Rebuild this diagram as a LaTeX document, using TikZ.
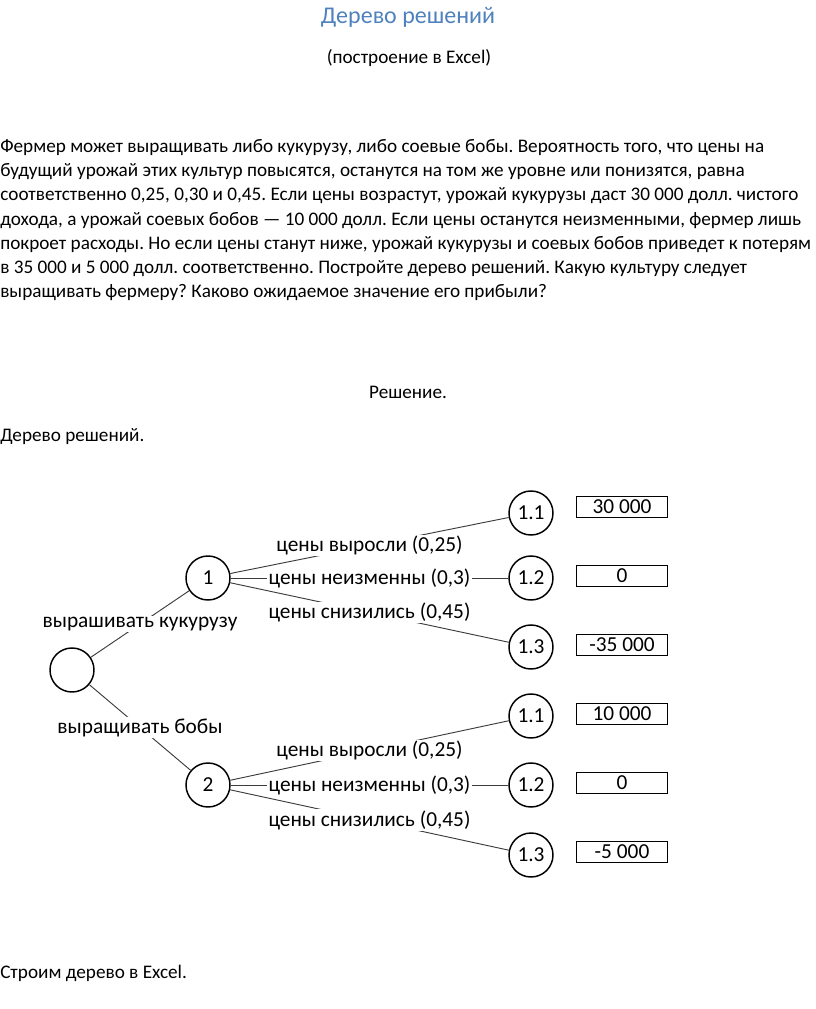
\documentclass[tikz,border=0pt]{standalone}
\usepackage{fontspec}
\setmainfont{Carlito}
\usetikzlibrary{positioning}
\definecolor{titleblue}{RGB}{79,129,189}
\definecolor{edgegray}{RGB}{60,60,60}
\frenchspacing

\tikzset{
  chance/.style={draw,circle,line width=1.1pt,minimum size=33pt,inner sep=0pt,font=\fontsize{16}{18}\selectfont},
  payoff/.style={draw,line width=1pt,minimum width=68pt,minimum height=16pt,inner sep=0pt,font=\fontsize{16}{18}\selectfont},
  branch/.style={draw=edgegray,line width=0.7pt},
  blabel/.style={fill=white,inner sep=1pt,font=\fontsize{16}{18}\selectfont},
  body/.style={font=\fontsize{14.4}{18.2}\selectfont,inner sep=0pt}
}

\begin{document}
\begin{tikzpicture}[x=0.75pt,y=-0.75pt]
\useasboundingbox (0,0) rectangle (816,1009);

% text above the tree
\node[body,font=\fontsize{18}{21}\selectfont,text=titleblue] (title) at (408,17) {Дерево решений};
\node[body] (subtitle) at (409,58) {(построение в Excel)};
\node[body,anchor=north west,align=left] (task) at (0,139) {Фермер может выращивать либо кукурузу, либо соевые бобы. Вероятность того, что цены на\\
будущий урожай этих культур повысятся, останутся на том же уровне или понизятся, равна\\
соответственно 0,25, 0,30 и 0,45. Если цены возрастут, урожай кукурузы даст 30 000 долл. чистого\\
дохода, а урожай соевых бобов — 10 000 долл. Если цены останутся неизменными, фермер лишь\\
покроет расходы. Но если цены станут ниже, урожай кукурузы и соевых бобов приведет к потерям\\
в 35 000 и 5 000 долл. соответственно. Постройте дерево решений. Какую культуру следует\\
выращивать фермеру? Каково ожидаемое значение его прибыли?};
\node[body] (solution) at (408,392) {Решение.};
\node[body,anchor=west] (treehead) at (0,437) {Дерево решений.};

% tree nodes
\node[chance] (root) at (72,670) {};
\node[chance] (c1) at (208,578) {1};
\node[chance] (c2) at (208,785) {2};
\node[chance] (c11) at (531,513) {1.1};
\node[chance] (c12) at (531,578) {1.2};
\node[chance] (c13) at (531,647) {1.3};
\node[chance] (c21) at (531,716) {1.1};
\node[chance] (c22) at (531,785) {1.2};
\node[chance] (c23) at (531,855) {1.3};

% payoffs
\node[payoff] (p11) at (622,507) {30 000};
\node[payoff] (p12) at (622,576) {0};
\node[payoff] (p13) at (622,645) {-35 000};
\node[payoff] (p21) at (622,714) {10 000};
\node[payoff] (p22) at (622,783) {0};
\node[payoff] (p23) at (622,852) {-5 000};

% branches
\draw[branch] (root) -- node[blabel]{вырашивать кукурузу} (c1);
\draw[branch] (root) -- node[blabel]{выращивать бобы} (c2);
\draw[branch] (c1) -- node[blabel]{цены выросли (0,25)} (c11);
\draw[branch] (c1) -- node[blabel]{цены неизменны (0,3)} (c12);
\draw[branch] (c1) -- node[blabel]{цены снизились (0,45)} (c13);
\draw[branch] (c2) -- node[blabel]{цены выросли (0,25)} (c21);
\draw[branch] (c2) -- node[blabel]{цены неизменны (0,3)} (c22);
\draw[branch] (c2) -- node[blabel]{цены снизились (0,45)} (c23);

\node[body,anchor=west] (excel) at (0,973) {Строим дерево в Excel.};
\end{tikzpicture}
\end{document}
